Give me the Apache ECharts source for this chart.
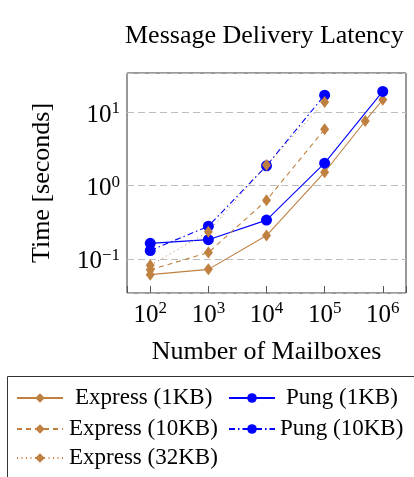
<!DOCTYPE html>
<html>
<head>
<meta charset="utf-8">
<script src="https://cdn.jsdelivr.net/npm/echarts@6/dist/echarts.min.js"></script>
<style>
html,body{margin:0;padding:0;background:#fff;}
#chart{width:414px;height:477px;}
</style>
</head>
<body>
<div id="chart"></div>
<script>
// ---- data ----
const title = 'Message Delivery Latency';
const xName = 'Number of Mailboxes';
const yName = 'Time [seconds]';
const seriesNames = ['Express (1KB)', 'Pung (1KB)', 'Express (10KB)', 'Pung (10KB)', 'Express (32KB)'];
const xExpress1KB = [100, 1000, 10000, 100000, 500000, 1000000];
const yExpress1KB = [0.061, 0.072, 0.208, 1.52, 7.6, 14.8];
const xPung1KB = [100, 1000, 10000, 100000, 1000000];
const yPung1KB = [0.163, 0.183, 0.338, 2.02, 19.2];
const xExpress10KB = [100, 1000, 10000, 100000];
const yExpress10KB = [0.071, 0.122, 0.63, 5.87];
const xPung10KB = [100, 1000, 10000, 100000];
const yPung10KB = [0.130, 0.279, 1.86, 17.1];
const xExpress32KB = [100, 1000, 10000, 100000];
const yExpress32KB = [0.082, 0.234, 1.91, 13.8];

const BROWN = '#bf8040';
const BLUE = '#0000ff';
const FONT = 'Liberation Serif';

function pairs(xs, ys) { return xs.map((x, i) => [x, ys[i]]); }

function powLabel(v) {
  const l = Math.log10(v);
  const e = Math.round(l);
  if (Math.abs(l - e) > 1e-6) return '';
  return '{b|10}{s|' + (e < 0 ? '\u2212' + (-e) : e) + '}';
}
const richLabel = {
  b: { fontSize: 25, fontFamily: FONT, color: '#000' },
  s: { fontSize: 17, fontFamily: FONT, color: '#000', padding: [0, 0, 13, 0] }
};

function mkSeries(name, data, color, symbol, size, lineType, width) {
  return {
    name: name, type: 'line', data: data,
    symbol: symbol, symbolSize: size,
    itemStyle: { color: color },
    lineStyle: { color: color, width: width, type: lineType },
    emphasis: { disabled: true },
    animation: false
  };
}

const series = [
  mkSeries(seriesNames[0], pairs(xExpress1KB, yExpress1KB), BROWN, 'diamond', [9, 12], 'solid', 1.1),
  mkSeries(seriesNames[1], pairs(xPung1KB, yPung1KB), BLUE, 'circle', 11, 'solid', 1.1),
  mkSeries(seriesNames[2], pairs(xExpress10KB, yExpress10KB), BROWN, 'diamond', [9, 12], [5, 4], 1.1),
  mkSeries(seriesNames[3], pairs(xPung10KB, yPung10KB), BLUE, 'circle', 11, [6, 3, 1.5, 3], 1.1),
  mkSeries(seriesNames[4], pairs(xExpress32KB, yExpress32KB), BROWN, 'diamond', [9, 12], [1, 3.5], 1)
];

function legendItem(name, left, top, padLeft) {
  return {
    data: [name], left: left, top: top, padding: 0,
    itemWidth: 46, itemHeight: 12, selectedMode: false,
    textStyle: { fontSize: 23, fontFamily: FONT, color: '#000', lineHeight: 26, padding: [0, 0, 0, padLeft] }
  };
}

const option = {
  backgroundColor: '#fff',
  animation: false,
  title: {
    text: title, left: 125, top: 23, padding: 0,
    textStyle: { fontSize: 26, fontFamily: FONT, fontWeight: 'normal', color: '#000' }
  },
  grid: {
    left: 127, right: 8, top: 73, bottom: 184,
    containLabel: false, outerBoundsMode: 'none',
    show: true, borderColor: '#333', borderWidth: 1, backgroundColor: 'transparent'
  },
  xAxis: {
    type: 'log', logBase: 10,
    min: Math.pow(10, 1.6), max: Math.pow(10, 6.4),
    name: xName, nameLocation: 'middle', nameGap: 46,
    nameTextStyle: { fontSize: 26, fontFamily: FONT, color: '#000' },
    axisLine: { show: false },
    axisTick: { show: true, inside: true, length: 7, lineStyle: { color: '#555', width: 1 } },
    axisLabel: { formatter: powLabel, rich: richLabel, margin: 7, showMinLabel: true, showMaxLabel: true },
    splitLine: { show: false },
    minorTick: { show: false }, minorSplitLine: { show: false }
  },
  yAxis: {
    type: 'log', logBase: 10,
    min: Math.pow(10, -1.465), max: Math.pow(10, 1.535),
    name: yName, nameLocation: 'middle', nameGap: 72,
    nameTextStyle: { fontSize: 26, fontFamily: FONT, color: '#000' },
    axisLine: { show: false },
    axisTick: { show: false },
    axisLabel: { formatter: powLabel, rich: richLabel, margin: 7, padding: [6, 0, 0, 0] },
    splitLine: { show: true, lineStyle: { color: '#bdbdbd', width: 1, type: [7, 4] } },
    minorTick: { show: false }, minorSplitLine: { show: false }
  },
  legend: [
    legendItem(seriesNames[0], 16, 385, 7),
    legendItem(seriesNames[1], 228, 385, 6),
    legendItem(seriesNames[2], 16, 416, 1),
    legendItem(seriesNames[3], 228, 416, 0),
    legendItem(seriesNames[4], 16, 445, 1)
  ],
  graphic: [{
    type: 'rect', silent: true,
    shape: { x: 7.5, y: 376.5, width: 420, height: 120 },
    style: { fill: 'none', stroke: '#333', lineWidth: 1 }
  }],
  series: series
};

const chart = echarts.init(document.getElementById('chart'), null, { renderer: 'canvas' });
chart.setOption(option);
</script>
</body>
</html>
